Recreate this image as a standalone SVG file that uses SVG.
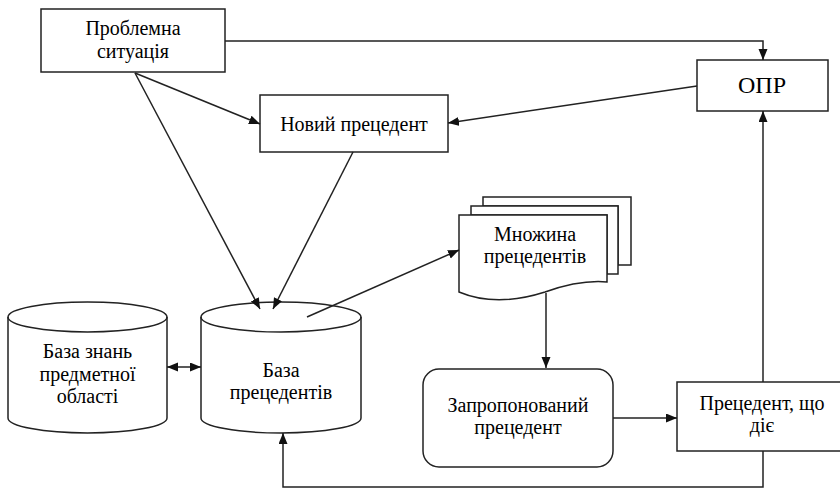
<svg xmlns="http://www.w3.org/2000/svg" width="840" height="490" viewBox="0 0 840 490" font-family="Liberation Serif, DejaVu Serif, serif" font-size="20" text-anchor="middle">
<defs>
<marker id="ah" markerUnits="userSpaceOnUse" markerWidth="12" markerHeight="10" refX="11" refY="4.5" orient="auto-start-reverse">
<path d="M0,0 L11,4.5 L0,9 z" fill="#111"/>
</marker>
</defs>
<style>
.s{fill:#fff;stroke:#222;stroke-width:1.5}
.c{fill:none;stroke:#222;stroke-width:1.5}
</style>
<rect width="840" height="490" fill="#fff"/>
<g id="problem">
<rect class="s" x="41" y="9" width="184" height="63"/>
<text x="133" y="35">Проблемна</text>
<text x="133" y="58">ситуація</text>
</g>
<g id="new-case">
<rect class="s" x="260" y="95" width="188" height="57"/>
<text x="354" y="131">Новий прецедент</text>
</g>
<g id="opr">
<rect class="s" x="697" y="60" width="131" height="51"/>
<text x="762" y="93" font-size="24">ОПР</text>
</g>
<g id="knowledge-base">
<path class="s" d="M8,317 A79.5,15 0 0 1 167,317 L167,418 A79.5,15 0 0 1 8,418 Z"/>
<path class="c" d="M8,317 A79.5,15 0 0 0 167,317"/>
<text x="87.5" y="358">База знань</text>
<text x="87.5" y="381">предметної</text>
<text x="87.5" y="403">області</text>
</g>
<g id="case-base">
<path class="s" d="M201,317 A80,15 0 0 1 361,317 L361,418 A80,15 0 0 1 201,418 Z"/>
<path class="c" d="M201,317 A80,15 0 0 0 361,317"/>
<text x="281" y="377">База</text>
<text x="281" y="399">прецедентів</text>
</g>
<g id="case-set">
<path class="s" d="M483,197 L631,197 L631,265 L618,265 L618,206 L483,206 Z"/>
<path class="s" d="M471,206 L618,206 L618,274 L607,274 L607,215 L471,215 Z"/>
<path class="s" d="M459,215 L607,215 L607,282 C585,280 565,285 545,292 C520,300 490,305 459,292 Z"/>
<text x="535" y="241">Множина</text>
<text x="535" y="263">прецедентів</text>
</g>
<g id="proposed">
<rect class="s" x="423" y="369" width="190" height="98" rx="16"/>
<text x="518" y="412">Запропонований</text>
<text x="518" y="434">прецедент</text>
</g>
<g id="current">
<rect class="s" x="677" y="382" width="172" height="69"/>
<text x="762" y="410">Прецедент, що</text>
<text x="762" y="432">діє</text>
</g>
<g id="connectors">
<polyline class="c" points="225,41 763,41 763,60" marker-end="url(#ah)"/>
<line class="c" x1="697" y1="86" x2="448" y2="123" marker-end="url(#ah)"/>
<line class="c" x1="135" y1="73" x2="260" y2="124" marker-end="url(#ah)"/>
<line class="c" x1="135" y1="73" x2="260" y2="309" marker-end="url(#ah)"/>
<line class="c" x1="353" y1="152" x2="273" y2="309" marker-end="url(#ah)"/>
<line class="c" x1="167" y1="367" x2="201" y2="367" marker-start="url(#ah)" marker-end="url(#ah)"/>
<line class="c" x1="307" y1="317" x2="459" y2="250" marker-end="url(#ah)"/>
<line class="c" x1="546" y1="293" x2="546" y2="368" marker-end="url(#ah)"/>
<line class="c" x1="613" y1="418" x2="677" y2="418" marker-end="url(#ah)"/>
<line class="c" x1="763" y1="382" x2="763" y2="111" marker-end="url(#ah)"/>
<polyline class="c" points="763,451 763,487 283,487 283,433" marker-end="url(#ah)"/>
</g>
</svg>
